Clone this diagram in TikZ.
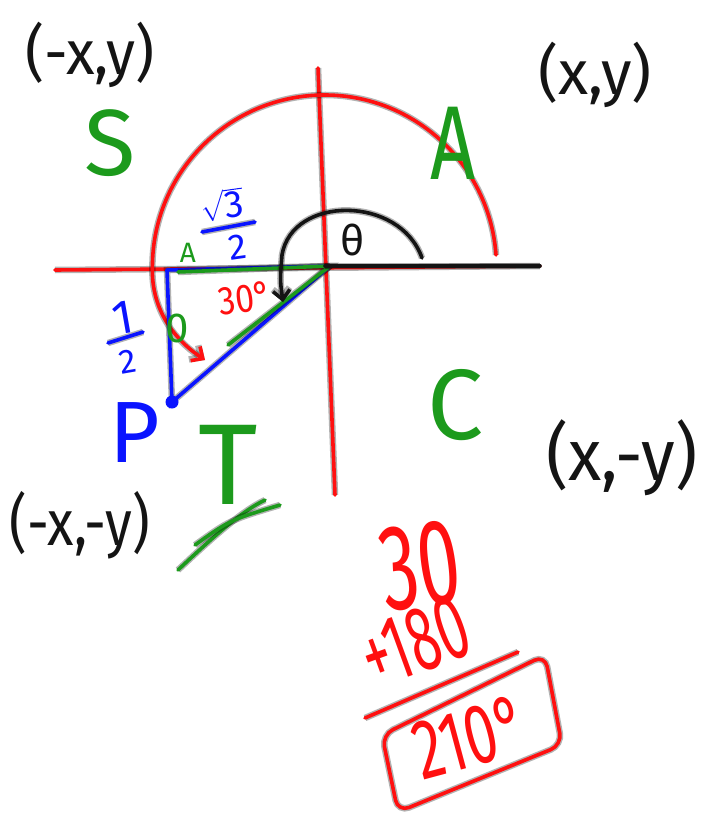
\documentclass[tikz,border=0pt]{standalone}
\usepackage{fontspec}
\setmainfont{Fira Sans}
\usepackage{xcolor}
\usepackage{tikz}
\usetikzlibrary{arrows.meta,calc}
\usepackage{amsmath}
\definecolor{PenRed}{HTML}{FF1010}
\definecolor{PenGreen}{HTML}{1C9A1C}
\definecolor{PenBlue}{HTML}{0A14FF}
\definecolor{PenBlack}{HTML}{141414}
\newcommand{\slim}[2]{\scalebox{#1}[1]{#2}}
\tikzset{
	pen/.style={line width=3.6pt,line cap=round,line join=round,preaction={draw,line width=6.5pt,opacity=.3}},
	hand/.style={font=\fontsize{#1}{#1}\selectfont,inner sep=0pt},
	barb/.style={-{Straight Barb[length=9pt,width=17pt]}}
}

\begin{document}
\begin{tikzpicture}[x=1pt,y=-1pt]
		\useasboundingbox (0,0) rectangle (701,821);
		\coordinate (O) at (325,266);
		\coordinate (xl) at (55,270);
		\coordinate (xr) at (540,266);
		\coordinate (yt) at (318,68);
		\coordinate (yb) at (335,495);
		\coordinate (Q) at (167,270);
		\coordinate (R) at (330,266);
		\coordinate (P) at (172,402);
		\coordinate (hm) at (228,345);
		\coordinate (qg) at (178,272);
		\draw[pen,PenRed] (xl)--(xr);
		\draw[pen,PenRed] (yt)--(yb);
		\draw[pen,PenRed,barb] (496,255) arc[start angle=-4,end angle=-180,radius=172]
			.. controls (151,310) and (175,340) .. (205,360);
		\draw[pen,PenBlue] (Q)--(R)--(P)--cycle;
		\fill[PenBlue] (P) circle (6.5pt);
		\draw[pen,PenGreen] (R)--(hm);
		\draw[pen,PenGreen] (qg)--(R);
		\draw[pen,PenBlack] (O)--(xr);
		\draw[pen,PenBlack,barb] (422,258) .. controls (400,195) and (292,195) .. (282,255)
			.. controls (280,280) .. (283,302);
		\node[hand=42,PenBlack] (theta) at (353,240) {θ};
		\node[hand=40,PenRed,rotate=8] (refang) at (245,298) {\slim{.85}{30°}};
		\node[hand=28,PenGreen] (marka) at (188,253) {A};
		\node[hand=42,PenGreen] (marko) at (177,328) {0};
		\node[hand=38,PenBlue,rotate=8] (rootthree) at (222,205) {$\sqrt{\mbox{3}}$};
		\node[hand=36,PenBlue,rotate=8] (twoa) at (238,247) {2};
		\draw[pen,PenBlue] (202,232)--(255,222);
		\node[hand=48,PenBlue,rotate=10] (onea) at (123,318) {1};
		\node[hand=34,PenBlue,rotate=10] (twob) at (128,362) {2};
		\draw[pen,PenBlue] (108,343)--(143,332);
		\node[hand=87,PenBlue] (plabel) at (135,433) {P};
		\node[hand=62,PenBlack] (qtwo) at (90,55) {\slim{.95}{(-x,y)}};
		\node[hand=62,PenBlack] (qone) at (595,75) {(x,y)};
		\node[hand=72,PenBlack] (qfour) at (622,458) {\slim{.95}{(x,-y)}};
		\node[hand=64,PenBlack] (qthree) at (80,525) {\slim{.85}{(-x,-y)}};
		\node[hand=94,PenGreen] (sinq) at (110,143) {S};
		\node[hand=105,PenGreen] (allq) at (453,143) {\slim{.75}{A}};
		\node[hand=100,PenGreen] (cosq) at (455,405) {C};
		\node[hand=115,PenGreen] (tanq) at (228,465) {T};
		\draw[pen,PenGreen] (178,570) .. controls (210,540) and (240,512) .. (265,500);
		\draw[pen,PenGreen] (195,545) .. controls (230,520) .. (280,505);
		\node[hand=122,PenRed,rotate=8] (thirty) at (420,566) {\slim{.62}{30}};
		\node[hand=92,PenRed,rotate=20] (addhalf) at (415,642) {\slim{.6}{+180}};
		\draw[pen,PenRed] (365,718)--(518,652);
		\draw[pen,PenRed,rounded corners=12pt] (382,735)--(545,655)--(562,745)--(398,812)--cycle;
		\node[hand=85,PenRed,rotate=15] (answer) at (470,737) {\slim{.68}{210°}};
	\end{tikzpicture}
\end{document}
